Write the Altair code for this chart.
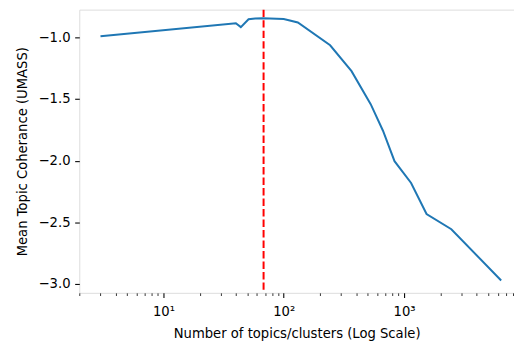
import altair as alt
import pandas as pd

# data
n_topics = [3, 40, 44, 51, 58, 67, 100, 131, 243, 366, 528, 668, 833, 1144, 1538, 2471, 6412]
coherence = [-0.99, -0.885, -0.917, -0.853, -0.847, -0.845, -0.851, -0.879, -1.064,
             -1.274, -1.542, -1.757, -2.004, -2.181, -2.433, -2.556, -2.972]
best_k = [68]
major_ticks = [10, 100, 1000]
minor_ticks = [2, 3, 4, 5, 6, 7, 8, 9,
               20, 30, 40, 50, 60, 70, 80, 90,
               200, 300, 400, 500, 600, 700, 800, 900,
               2000, 3000, 4000, 5000, 6000, 7000, 8000]
y_ticks = [-3.0, -2.5, -2.0, -1.5, -1.0]

df = pd.DataFrame({"n": n_topics, "c": coherence})
df_k = pd.DataFrame({"k": best_k})

FONT = "DejaVu Sans"
FS = 13.3
W, H = 439, 286

x_scale = alt.Scale(type="log", domain=[2.0, 8196], nice=False)
y_scale = alt.Scale(domain=[-3.072, -0.775], nice=False, zero=False)

is_major = "indexof([10, 100, 1000], datum.value) >= 0"

x_axis = alt.Axis(
    title="Number of topics/clusters (Log Scale)",
    values=major_ticks + minor_ticks,
    labelExpr="datum.value == 10 ? '10¹' : datum.value == 100 ? '10²' : datum.value == 1000 ? '10³' : ''",
    labelOverlap=False,
    labelFlush=False,
    grid=False,
    domain=False,
    tickColor="black",
    tickSize={"condition": {"test": is_major, "value": 4.67}, "value": 2.67},
    tickWidth={"condition": {"test": is_major, "value": 1.07}, "value": 0.8},
    labelPadding=7,
    labelFont=FONT, labelFontSize=FS, labelColor="black",
    titleFont=FONT, titleFontSize=FS, titleFontWeight="normal", titleColor="black",
    titlePadding=9.5,
)

y_axis = alt.Axis(
    title="Mean Topic Coherance (UMASS)",
    values=y_ticks,
    labelExpr="replace(format(datum.value, '.1f'), '-', '\u2212')",
    grid=False,
    domain=False,
    tickColor="black",
    tickSize=4.67,
    tickWidth=1.07,
    labelPadding=4.67,
    labelFont=FONT, labelFontSize=FS, labelColor="black",
    titleFont=FONT, titleFontSize=FS, titleFontWeight="normal", titleColor="black",
    titlePadding=8.5,
)

line = alt.Chart(df).mark_line(color="#1f77b4", strokeWidth=2).encode(
    x=alt.X("n:Q", scale=x_scale, axis=x_axis),
    y=alt.Y("c:Q", scale=y_scale, axis=y_axis),
)

rule = alt.Chart(df_k).mark_rule(color="red", strokeWidth=2, strokeDash=[7.4, 3.2]).encode(
    x=alt.X("k:Q", scale=x_scale),
)

chart = (line + rule).properties(
    width=W, height=H,
    autosize=alt.AutoSizeParams(type="none"),
    padding={"left": 72, "top": 0, "right": 0, "bottom": 50},
).configure_view(stroke="black", strokeWidth=1.07).configure(background="white")

chart.save("out.html", embed_options={"renderer": "svg", "actions": False})
